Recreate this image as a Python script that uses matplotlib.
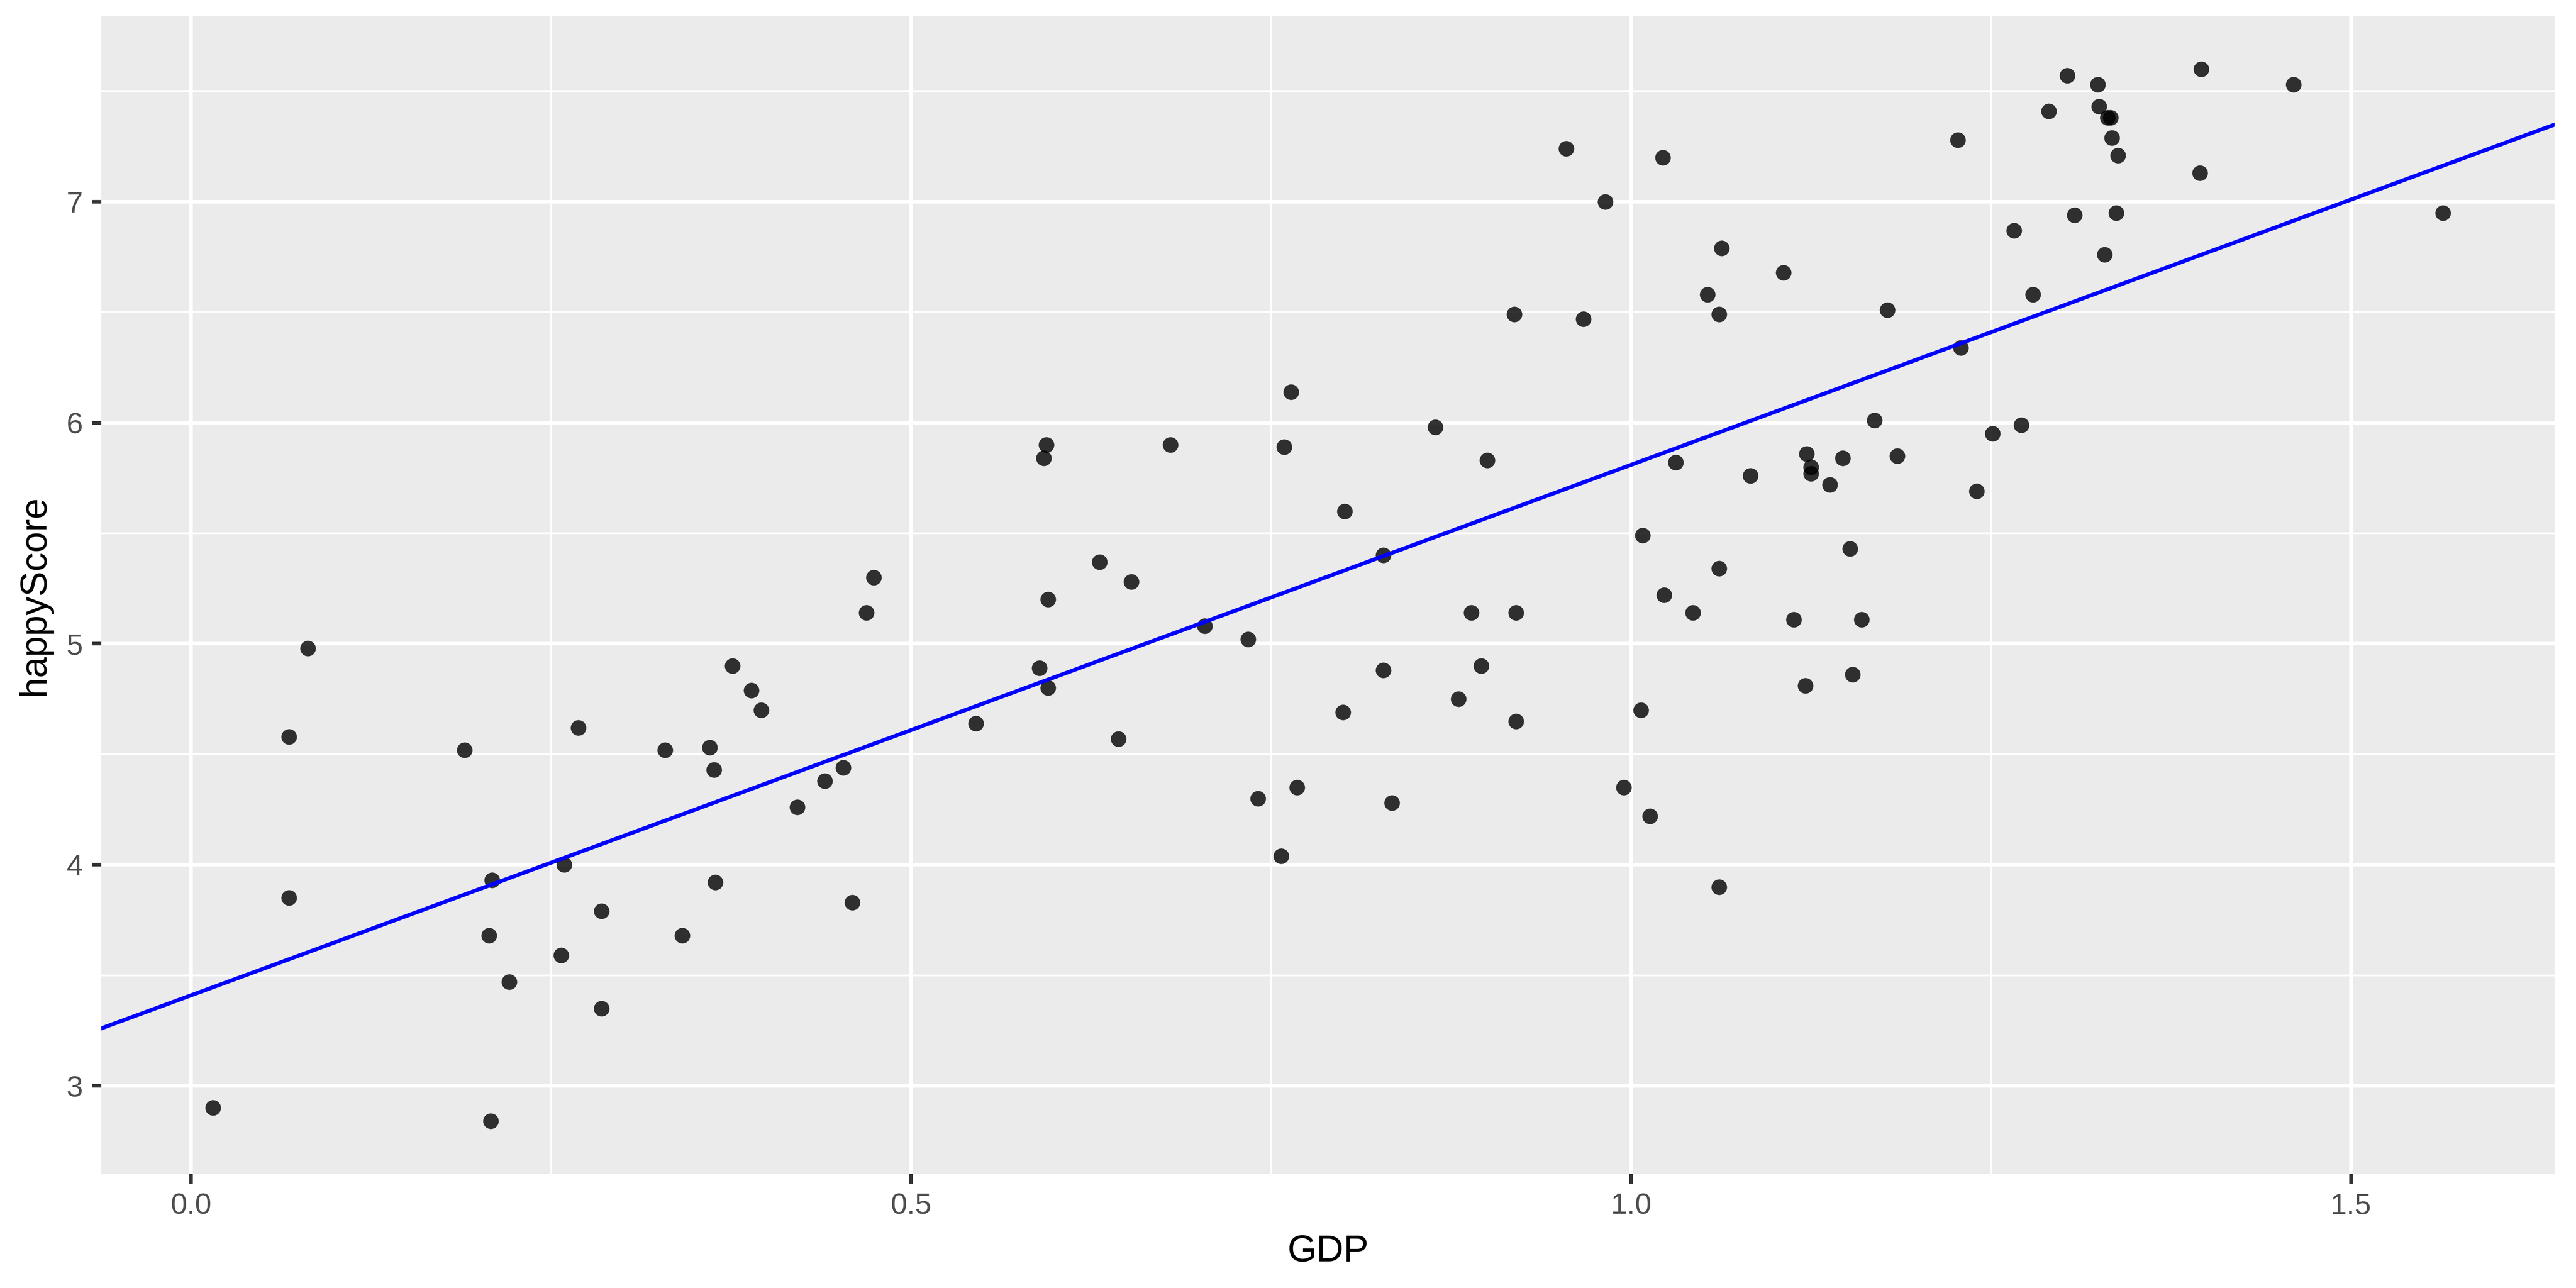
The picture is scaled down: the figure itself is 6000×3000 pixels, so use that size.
import numpy as np
import matplotlib.pyplot as plt

# GDP per capita index vs happiness score
gdp = [0.015, 0.068, 0.068, 0.081, 0.190, 0.209, 0.207, 0.208, 0.221, 0.259,
       0.257, 0.269, 0.285, 0.285, 0.329, 0.341, 0.360, 0.363, 0.364, 0.376,
       0.389, 0.396, 0.421, 0.440, 0.453, 0.459, 0.469, 0.474, 0.545, 0.589,
       0.595, 0.592, 0.594, 0.595, 0.631, 0.644, 0.653, 0.680, 0.704, 0.734,
       0.741, 0.757, 0.759, 0.764, 0.768, 0.800, 0.801, 0.828, 0.828, 0.834,
       0.864, 0.880, 0.889, 0.896, 0.900, 0.919, 0.920, 0.920, 0.955, 0.967,
       0.982, 0.995, 1.007, 1.008, 1.013, 1.022, 1.023, 1.031, 1.043, 1.053,
       1.061, 1.061, 1.063, 1.061, 1.083, 1.106, 1.113, 1.121, 1.122, 1.125,
       1.125, 1.138, 1.147, 1.152, 1.154, 1.160, 1.169, 1.178, 1.185, 1.240,
       1.227, 1.229, 1.251, 1.266, 1.271, 1.279, 1.290, 1.303, 1.308, 1.324,
       1.325, 1.329, 1.331, 1.333, 1.334, 1.337, 1.338, 1.395, 1.396, 1.460,
       1.564]
happy = [2.90, 4.58, 3.85, 4.98, 4.52, 3.93, 3.68, 2.84, 3.47, 4.00,
         3.59, 4.62, 3.79, 3.35, 4.52, 3.68, 4.53, 4.43, 3.92, 4.90,
         4.79, 4.70, 4.26, 4.38, 4.44, 3.83, 5.14, 5.30, 4.64, 4.89,
         4.80, 5.84, 5.90, 5.20, 5.37, 4.57, 5.28, 5.90, 5.08, 5.02,
         4.30, 4.04, 5.89, 6.14, 4.35, 4.69, 5.60, 5.40, 4.88, 4.28,
         5.98, 4.75, 5.14, 4.90, 5.83, 6.49, 5.14, 4.65, 7.24, 6.47,
         7.00, 4.35, 4.70, 5.49, 4.22, 7.20, 5.22, 5.82, 5.14, 6.58,
         5.34, 6.49, 6.79, 3.90, 5.76, 6.68, 5.11, 4.81, 5.86, 5.80,
         5.77, 5.72, 5.84, 5.43, 4.86, 5.11, 6.01, 6.51, 5.85, 5.69,
         7.28, 6.34, 5.95, 6.87, 5.99, 6.58, 7.41, 7.57, 6.94, 7.53,
         7.43, 6.76, 7.38, 7.38, 7.29, 6.95, 7.21, 7.13, 7.60, 7.53,
         6.95]

x = np.array(gdp)
y = np.array(happy)
slope, intercept = np.polyfit(x, y, 1)

plt.rcParams['font.family'] = ['Liberation Sans', 'DejaVu Sans']

fig = plt.figure(figsize=(20, 10), dpi=300)
ax = fig.add_axes([0.0393, 0.0887, 0.9524, 0.8985])
ax.set_facecolor('#EBEBEB')

# ggplot-like limits: data range plus 5 %
xpad = (x.max() - x.min()) * 0.05
ypad = (y.max() - y.min()) * 0.05
ax.set_xlim(x.min() - xpad, x.max() + xpad)
ax.set_ylim(y.min() - ypad, y.max() + ypad)

ax.set_xticks([0.0, 0.5, 1.0, 1.5])
ax.set_xticklabels(['0.0', '0.5', '1.0', '1.5'])
ax.set_yticks([3, 4, 5, 6, 7])
ax.set_xticks([0.25, 0.75, 1.25], minor=True)
ax.set_yticks([3.5, 4.5, 5.5, 6.5, 7.5], minor=True)

ax.grid(True, which='major', color='white', linewidth=2.0)
ax.grid(True, which='minor', color='white', linewidth=1.0)
ax.set_axisbelow(True)
for s in ax.spines.values():
    s.set_visible(False)

ax.tick_params(which='major', length=5.4, width=2.0, color='#333333',
               labelsize=16.5, labelcolor='#4D4D4D', pad=5)
ax.tick_params(which='minor', length=0)

ax.scatter(x, y, s=76, color='black', alpha=0.8, linewidths=0, zorder=3)
ax.axline((0, intercept), slope=slope, color='#0000FF', linewidth=2.2, zorder=4)

ax.set_xlabel('GDP', fontsize=21, color='black', labelpad=8)
ax.set_ylabel('happyScore', fontsize=21, color='black', labelpad=8)

fig.savefig('out.png', dpi=300, facecolor='white')
